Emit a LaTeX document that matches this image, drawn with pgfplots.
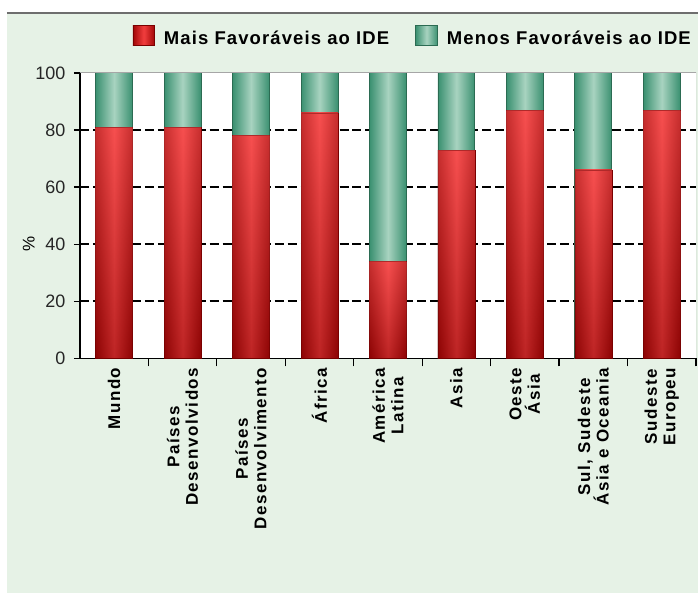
\documentclass[border=0pt]{standalone}
\usepackage{fontspec}
\setmainfont{Liberation Sans}
\newfontfamily\lblfont[LetterSpace=9]{Liberation Sans}
\newfontfamily\legfont[LetterSpace=6]{Liberation Sans}
\usepackage{pgfplots}
\usepackage{pgfplotstable}
\pgfplotsset{compat=1.18}

\definecolor{bgpanel}{HTML}{E6F2E6}
\definecolor{topline}{HTML}{6E6E6E}
\definecolor{reddark}{HTML}{A00606}
\definecolor{redmid}{HTML}{F23E3E}
\definecolor{redline}{HTML}{7A0000}
\definecolor{redtop}{HTML}{FF6A6A}
\definecolor{redglossmid}{HTML}{E82626}
\definecolor{redbottom}{HTML}{700000}
\definecolor{grndark}{HTML}{3A9070}
\definecolor{grnlight}{HTML}{A8D3C0}
\definecolor{grnline}{HTML}{2B6B52}

% share of respondents (%) per region
\pgfplotstableread{
idx mais menos
0   81   19
1   81   19
2   78   22
3   86   14
4   34   66
5   73   27
6   87   13
7   66   34
8   87   13
}\idetable

\pgfplotsset{
  redbar/.style={left color=reddark, right color=reddark,
    middle color=redmid, draw=redline, line width=0.5bp},
  redgloss/.style={top color=redtop, middle color=redglossmid,
    bottom color=redbottom, fill opacity=0.4, draw=none},
  grnbar/.style={left color=grndark, right color=grndark,
    middle color=grnlight, draw=grnline, line width=0.8bp},
  sqlegend/.style={legend image code/.code={
    \draw[##1] (0bp,-7bp) rectangle (22bp,13bp);}},
}

\begin{document}
\begin{tikzpicture}
\fill[white] (0bp,0bp) rectangle (699bp,594bp);
\fill[bgpanel] (7bp,0bp) rectangle (699bp,580bp);
\draw[topline, line width=2bp] (7bp,580.5bp) -- (699bp,580.5bp);
\useasboundingbox (0bp,0bp) rectangle (699bp,594bp);
\begin{axis}[
  scale only axis,
  width=617bp, height=286bp,
  at={(80bp,235bp)}, anchor=south west,
  ybar, bar shift=0pt, bar width=37bp,
  xmin=-0.5, xmax=8.5, ymin=0, ymax=100,
  axis background/.style={fill=white},
  axis lines*=left,
  axis line style={black, line width=1.3bp},
  tick align=outside,
  xtick={0,...,8},
  major x tick style={draw=none},
  minor xtick={0.5,1.5,...,8.5},
  minor x tick style={black, line width=1.3bp},
  minor tick length=8bp,
  ytick={0,20,...,100},
  major y tick style={black, line width=1.3bp},
  major tick length=6bp,
  extra y ticks={20,40,60,80},
  extra y tick labels={},
  extra y tick style={grid=major, major tick length=0pt,
    major grid style={black, line width=2.2bp, dash pattern=on 9bp off 4bp}},
  xticklabels={Mundo, {Países\\Desenvolvidos}, {Países\\Desenvolvimento},
    África, {América\\Latina}, Asia, {Oeste\\Ásia},
    {Sul, Sudeste\\Ásia e Oceania}, {Sudeste\\Europeu}},
  x tick label style={rotate=90, anchor=east, align=center,
    font=\lblfont\bfseries\fontsize{17bp}{18.5bp}\selectfont, inner sep=3bp},
  y tick label style={font=\fontsize{18bp}{20bp}\selectfont, text=black!85,
    xshift=-5bp},
  /pgf/number format/assume math mode=true,
  ylabel={\%},
  every axis y label/.style={at={(axis description cs:-0.083,0.40)},
    rotate=90, anchor=center, font=\fontsize{17bp}{19bp}\selectfont},
  legend columns=2,
  legend style={at={(1,1.175)}, anchor=north east, draw=none, fill=none,
    font=\legfont\bfseries\fontsize{18.5bp}{20bp}\selectfont,
    /tikz/every odd column/.append style={column sep=7bp},
    /tikz/every even column/.append style={column sep=24bp}},
]
% one plot per bar, so that every bar carries its own shading;
% the green part runs from 0 to mais+menos and the red part is drawn over it
\pgfplotsinvokeforeach{0,...,8}{
  \addplot[grnbar, forget plot, restrict expr to domain={\coordindex}{#1:#1}]
    table[x=idx, y expr=\thisrow{mais}+\thisrow{menos}] {\idetable};
}
\pgfplotsinvokeforeach{0,...,8}{
  \addplot[redbar, forget plot, restrict expr to domain={\coordindex}{#1:#1}]
    table[x=idx, y=mais] {\idetable};
  \addplot[redgloss, forget plot, restrict expr to domain={\coordindex}{#1:#1}]
    table[x=idx, y=mais] {\idetable};
}
\addlegendimage{sqlegend, redbar}
\addlegendentry{Mais Favoráveis ao IDE}
\addlegendimage{sqlegend, grnbar}
\addlegendentry{Menos Favoráveis ao IDE}
\draw[gray!70, line width=1bp] (rel axis cs:0,1) -- (rel axis cs:1,1)
  -- (rel axis cs:1,0);
\end{axis}
\end{tikzpicture}
\end{document}
